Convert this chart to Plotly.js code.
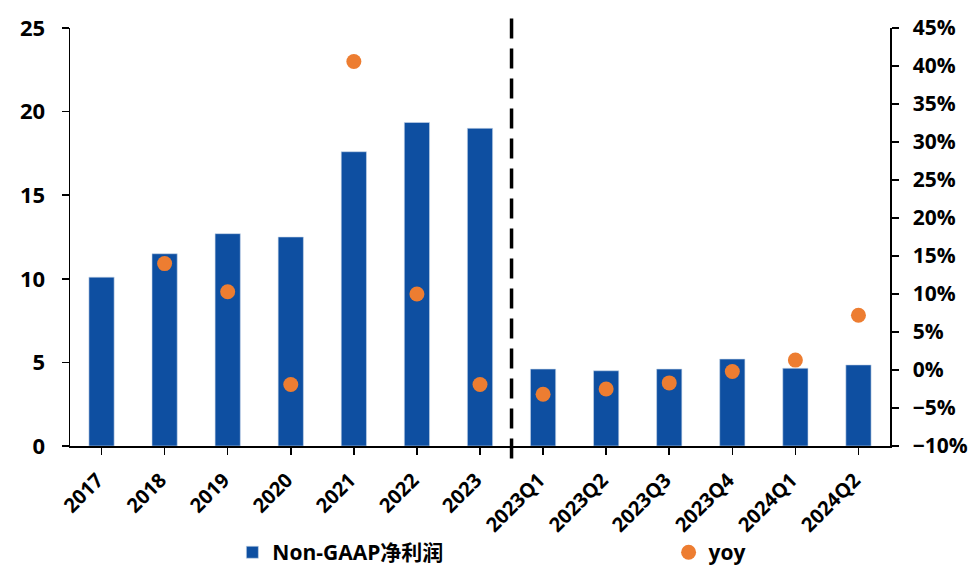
<!DOCTYPE html>
<html>
<head>
<meta charset="utf-8">
<script src="https://cdn.plot.ly/plotly-3.0.1.min.js"></script>
<style>html,body{margin:0;padding:0;background:#fff;}#chart{width:971px;height:569px;}</style>
</head>
<body>
<div id="chart"></div>
<script>
const categories = ["2017","2018","2019","2020","2021","2022","2023","2023Q1","2023Q2","2023Q3","2023Q4","2024Q1","2024Q2"];
const profit = [10.1, 11.5, 12.7, 12.5, 17.6, 19.35, 19.0, 4.6, 4.5, 4.6, 5.2, 4.65, 4.85];
const yoy = [null, 0.140, 0.103, -0.019, 0.406, 0.100, -0.019, -0.032, -0.025, -0.017, -0.002, 0.013, 0.072];
const yTicks = [0, 5, 10, 15, 20, 25];
const y2Ticks = [-0.10, -0.05, 0, 0.05, 0.10, 0.15, 0.20, 0.25, 0.30, 0.35, 0.40, 0.45];

const FONT = "'Open Sans', 'Noto Sans CJK SC', sans-serif";
const tf = (s) => ({family: FONT, size: s, color: '#000', weight: 'bold'});

const traces = [
  {
    type: 'bar', x: categories, y: profit, name: 'Non-GAAP净利润',
    marker: {color: '#0E4FA1', line: {color: '#c9d6ea', width: 0.6}},
    width: 0.4, yaxis: 'y', legend: 'legend'
  },
  {
    type: 'scatter', mode: 'markers', x: categories, y: yoy, name: 'yoy',
    marker: {color: '#ED7D31', size: 15}, yaxis: 'y2', legend: 'legend2'
  }
];

const axisCommon = {
  showline: true, linecolor: '#000', linewidth: 1.5,
  ticks: 'outside', ticklen: 7, tickcolor: '#000', tickwidth: 1.5,
  showgrid: false, zeroline: false, automargin: false
};

const layout = {
  width: 971, height: 569,
  margin: {l: 70, r: 81, t: 28, b: 123, autoexpand: false},
  paper_bgcolor: '#fff', plot_bgcolor: '#fff',
  font: tf(20),
  showlegend: true,
  legend: {
    orientation: 'h', x: 0.198, xanchor: 'left', y: -0.255, yanchor: 'middle',
    font: tf(21), bgcolor: 'rgba(0,0,0,0)'
  },
  legend2: {
    orientation: 'h', x: 0.73, xanchor: 'left', y: -0.255, yanchor: 'middle',
    font: tf(21), bgcolor: 'rgba(0,0,0,0)'
  },
  bargap: 0.6,
  xaxis: Object.assign({}, axisCommon, {
    type: 'category', tickangle: -45, tickfont: tf(20), range: [-0.5, 12.5],
    ticklabelstandoff: 6, ticklabelshift: -4
  }),
  yaxis: Object.assign({}, axisCommon, {
    range: [0, 25], tickvals: yTicks, tickfont: tf(22), ticklabelstandoff: 12
  }),
  yaxis2: Object.assign({}, axisCommon, {
    overlaying: 'y', side: 'right', range: [-0.10, 0.45], tickvals: y2Ticks, tickformat: '.0%',
    tickfont: tf(21), ticklabelstandoff: 10
  }),
  shapes: [{
    type: 'line', xref: 'x', yref: 'paper', x0: 6.5, x1: 6.5, y0: -0.03, y1: 1.04,
    line: {color: '#000', width: 3.5, dash: '20px,10px'}
  }]
};

Plotly.newPlot('chart', traces, layout, {displayModeBar: false, staticPlot: true});
</script>
</body>
</html>
